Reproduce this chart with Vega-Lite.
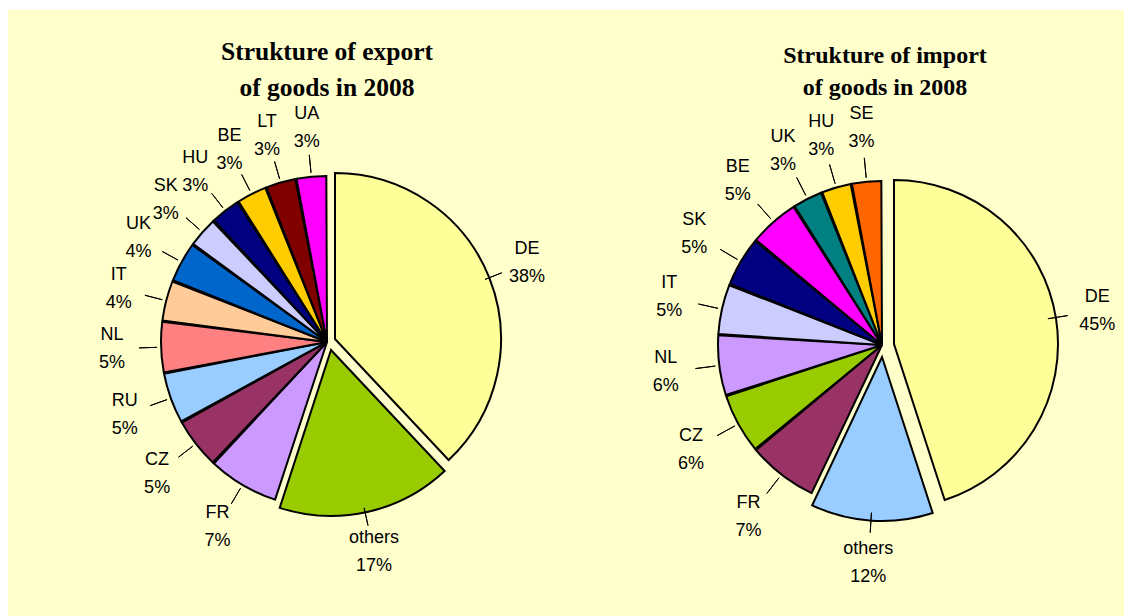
{
  "$schema": "https://vega.github.io/schema/vega-lite/v6.json",
  "background": "white",
  "padding": {"left": 8, "top": 10, "right": 0, "bottom": 0},
  "spacing": 0,
  "config": {
    "view": {"stroke": null, "fill": "#FFFFCC"},
    "title": {"font": "Liberation Serif", "fontWeight": "bold", "color": "black", "anchor": "middle", "frame": "group"},
    "text": {"font": "Liberation Sans", "fontSize": 18, "color": "black"}
  },
  "datasets": {
    "exports": [
      {"country": "DE", "share": 0.38},
      {"country": "others", "share": 0.17},
      {"country": "FR", "share": 0.07},
      {"country": "CZ", "share": 0.05},
      {"country": "RU", "share": 0.05},
      {"country": "NL", "share": 0.05},
      {"country": "IT", "share": 0.04},
      {"country": "UK", "share": 0.04},
      {"country": "SK", "share": 0.03},
      {"country": "HU", "share": 0.03},
      {"country": "BE", "share": 0.03},
      {"country": "LT", "share": 0.03},
      {"country": "UA", "share": 0.03}
    ],
    "imports": [
      {"country": "DE", "share": 0.45},
      {"country": "others", "share": 0.12},
      {"country": "FR", "share": 0.07},
      {"country": "CZ", "share": 0.06},
      {"country": "NL", "share": 0.06},
      {"country": "IT", "share": 0.05},
      {"country": "SK", "share": 0.05},
      {"country": "BE", "share": 0.05},
      {"country": "UK", "share": 0.03},
      {"country": "HU", "share": 0.03},
      {"country": "SE", "share": 0.03}
    ]
  },
  "resolve": {"scale": {"color": "independent", "theta": "independent"}},
  "hconcat": [
    {
      "width": 638,
      "height": 606,
      "view": {"fill": "#FFFFCC", "stroke": null},
      "title": {"text": ["Strukture of export", "of goods in 2008"], "fontSize": 25.5, "lineHeight": 36, "offset": -91},
      "data": {"name": "exports"},
      "transform": [
        {"window": [{"op": "row_number", "as": "idx"}]},
        {"stack": "share", "groupby": [], "sort": [{"field": "idx", "order": "ascending"}], "as": ["s0", "s1"]}
      ],
      "layer": [
        {
          "transform": [{"filter": "datum.country != 'DE' && datum.country != 'others'"}],
          "mark": {"type": "arc", "outerRadius": 166, "stroke": "black", "strokeWidth": 2, "padAngle": 0.008, "xOffset": 0, "yOffset": 29},
          "encoding": {
            "theta": {"field": "s0", "type": "quantitative", "scale": {"domain": [0, 1]}},
            "theta2": {"field": "s1"},
            "color": {"field": "country", "type": "nominal", "legend": null,
              "scale": {"domain": ["DE", "others", "FR", "CZ", "RU", "NL", "IT", "UK", "SK", "HU", "BE", "LT", "UA"],
                        "range": ["#FFFF99", "#99CC00", "#CC99FF", "#993366", "#99CCFF", "#FF8080", "#FFCC99", "#0066CC", "#CCCCFF", "#000080", "#FFCC00", "#800000", "#FF00FF"]}}
          }
        },
        {
          "transform": [{"filter": "datum.country == 'DE'"}],
          "mark": {"type": "arc", "outerRadius": 166, "stroke": "black", "strokeWidth": 2, "xOffset": 8, "yOffset": 26},
          "encoding": {
            "theta": {"field": "s0", "type": "quantitative", "scale": {"domain": [0, 1]}},
            "theta2": {"field": "s1"},
            "color": {"field": "country", "type": "nominal", "legend": null}
          }
        },
        {
          "transform": [{"filter": "datum.country == 'others'"}],
          "mark": {"type": "arc", "outerRadius": 166, "stroke": "black", "strokeWidth": 2, "xOffset": 4, "yOffset": 37},
          "encoding": {
            "theta": {"field": "s0", "type": "quantitative", "scale": {"domain": [0, 1]}},
            "theta2": {"field": "s1"},
            "color": {"field": "country", "type": "nominal", "legend": null}
          }
        },
        {
          "transform": [
            {"fold": ["s0", "s1"], "as": ["k", "v"]},
            {"aggregate": [{"op": "mean", "field": "v", "as": "mid"}], "groupby": ["country", "share"]}
          ],
          "layer": [
            {
              "mark": {"type": "arc", "innerRadius": 170, "outerRadius": 188, "stroke": "black", "strokeWidth": 1, "fill": null, "yOffset": 29},
              "encoding": {
                "theta": {"field": "mid", "type": "quantitative", "scale": {"domain": [0, 1]}},
                "theta2": {"field": "mid"}
              }
            },
            {
              "mark": {"type": "text", "radius": 215, "dy": -14, "yOffset": 29},
              "encoding": {
                "theta": {"field": "mid", "type": "quantitative", "scale": {"domain": [0, 1]}},
                "text": {"field": "country"}
              }
            },
            {
              "mark": {"type": "text", "radius": 215, "dy": 14, "yOffset": 29},
              "encoding": {
                "theta": {"field": "mid", "type": "quantitative", "scale": {"domain": [0, 1]}},
                "text": {"field": "share", "format": ".0%"}
              }
            }
          ]
        }
      ]
    },
    {
      "width": 492,
      "height": 606,
      "view": {"fill": "#FFFFCC", "stroke": null},
      "title": {"text": ["Strukture  of import", "of goods in 2008"], "fontSize": 24, "lineHeight": 32, "offset": -90, "dx": -7},
      "data": {"name": "imports"},
      "transform": [
        {"window": [{"op": "row_number", "as": "idx"}]},
        {"stack": "share", "groupby": [], "sort": [{"field": "idx", "order": "ascending"}], "as": ["s0", "s1"]}
      ],
      "layer": [
        {
          "transform": [{"filter": "datum.country != 'DE' && datum.country != 'others'"}],
          "mark": {"type": "arc", "outerRadius": 164, "stroke": "black", "strokeWidth": 2, "padAngle": 0.008, "xOffset": -10, "yOffset": 32},
          "encoding": {
            "theta": {"field": "s0", "type": "quantitative", "scale": {"domain": [0, 1]}},
            "theta2": {"field": "s1"},
            "color": {"field": "country", "type": "nominal", "legend": null,
              "scale": {"domain": ["DE", "others", "FR", "CZ", "NL", "IT", "SK", "BE", "UK", "HU", "SE"],
                        "range": ["#FFFF99", "#99CCFF", "#993366", "#99CC00", "#CC99FF", "#CCCCFF", "#000080", "#FF00FF", "#008080", "#FFCC00", "#FF6600"]}}
          }
        },
        {
          "transform": [{"filter": "datum.country == 'DE'"}],
          "mark": {"type": "arc", "outerRadius": 164, "stroke": "black", "strokeWidth": 2, "xOffset": 2, "yOffset": 31},
          "encoding": {
            "theta": {"field": "s0", "type": "quantitative", "scale": {"domain": [0, 1]}},
            "theta2": {"field": "s1"},
            "color": {"field": "country", "type": "nominal", "legend": null}
          }
        },
        {
          "transform": [{"filter": "datum.country == 'others'"}],
          "mark": {"type": "arc", "outerRadius": 164, "stroke": "black", "strokeWidth": 2, "xOffset": -10, "yOffset": 44},
          "encoding": {
            "theta": {"field": "s0", "type": "quantitative", "scale": {"domain": [0, 1]}},
            "theta2": {"field": "s1"},
            "color": {"field": "country", "type": "nominal", "legend": null}
          }
        },
        {
          "transform": [
            {"fold": ["s0", "s1"], "as": ["k", "v"]},
            {"aggregate": [{"op": "mean", "field": "v", "as": "mid"}], "groupby": ["country", "share"]}
          ],
          "layer": [
            {
              "mark": {"type": "arc", "innerRadius": 168, "outerRadius": 188, "stroke": "black", "strokeWidth": 1, "fill": null, "xOffset": -10, "yOffset": 32},
              "encoding": {
                "theta": {"field": "mid", "type": "quantitative", "scale": {"domain": [0, 1]}},
                "theta2": {"field": "mid"}
              }
            },
            {
              "mark": {"type": "text", "radius": 218, "dy": -14, "xOffset": -10, "yOffset": 32},
              "encoding": {
                "theta": {"field": "mid", "type": "quantitative", "scale": {"domain": [0, 1]}},
                "text": {"field": "country"}
              }
            },
            {
              "mark": {"type": "text", "radius": 218, "dy": 14, "xOffset": -10, "yOffset": 32},
              "encoding": {
                "theta": {"field": "mid", "type": "quantitative", "scale": {"domain": [0, 1]}},
                "text": {"field": "share", "format": ".0%"}
              }
            }
          ]
        }
      ]
    }
  ]
}
